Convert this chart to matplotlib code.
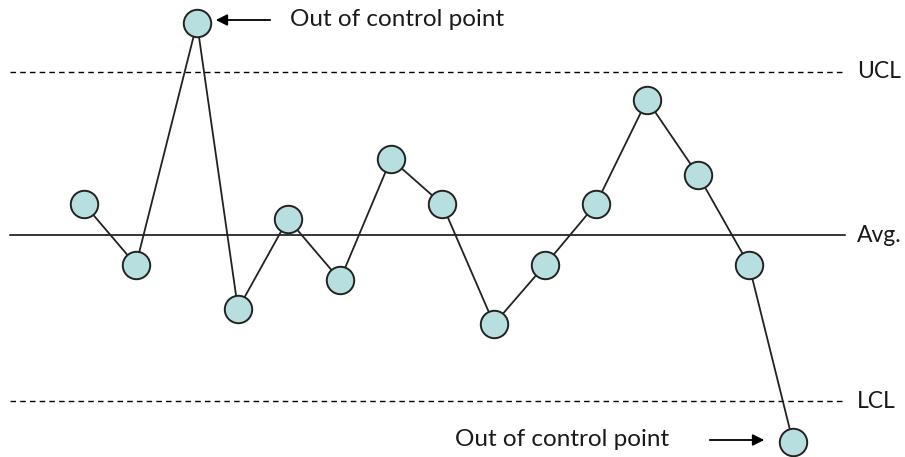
import matplotlib

matplotlib.use("Agg")
import matplotlib.pyplot as plt

# sample positions and values (measured relative to the average line)
sample_x = [84, 136, 197, 238, 288, 340, 391, 442, 494, 545, 596, 647, 698, 749, 793]
values = [31, -30, 212, -74, 16, -45, 76, 31, -89, -30, 31, 135, 60, -30, -207]
ucl = 163
avg = 0
lcl = -166
limit_labels = ["UCL", "Avg.", "LCL"]
note = "Out of control point"

FILL = "#b7dfe0"
FONT = ["Lato", "DejaVu Sans"]
TEXT = "#1a1a1a"

fig = plt.figure(figsize=(9.05, 4.57), dpi=100)
ax = fig.add_axes([0, 0, 1, 1])
ax.set_xlim(0, 905)
ax.set_ylim(-222, 235)
ax.axis("off")

ax.plot([10, 845], [ucl, ucl], color="black", lw=1, ls=(0, (4, 3)))
ax.plot([10, 845], [avg, avg], color="black", lw=1.1)
ax.plot([10, 845], [lcl, lcl], color="black", lw=1, ls=(0, (4, 3)))

for lvl, lab in zip([ucl, avg, lcl], limit_labels):
    ax.text(857, lvl, lab, fontsize=16.5, family=FONT, color=TEXT,
            va="center", ha="left")

ax.plot(sample_x, values, color="#222222", lw=1.3, zorder=2)
ax.scatter(sample_x, values, s=390, facecolor=FILL, edgecolor="#222222",
           linewidth=1.4, zorder=3)

# annotations for the two out of control points
top = values.index(max(values))
ax.annotate("", xy=(sample_x[top] + 16, values[top] + 3),
            xytext=(sample_x[top] + 76, values[top] + 3),
            arrowprops=dict(arrowstyle="-|>", color="black", lw=1.3,
                            mutation_scale=17))
ax.text(290, values[top] + 3, note, fontsize=17.5, family=FONT, color=TEXT,
        va="center")

bot = values.index(min(values))
ax.annotate("", xy=(sample_x[bot] - 26, values[bot] + 2),
            xytext=(sample_x[bot] - 86, values[bot] + 2),
            arrowprops=dict(arrowstyle="-|>", color="black", lw=1.3,
                            mutation_scale=17))
ax.text(455, values[bot] + 3, note, fontsize=17.5, family=FONT, color=TEXT,
        va="center")

fig.savefig("out.png", dpi=100, facecolor="white")
